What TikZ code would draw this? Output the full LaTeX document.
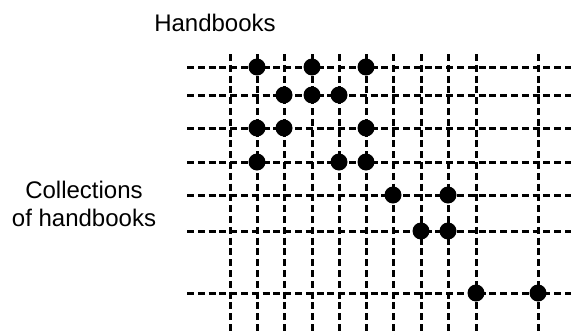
\documentclass[tikz,border=0pt]{standalone}
\usepackage{fontspec}
\setmainfont{Liberation Sans}
\begin{document}
\begin{tikzpicture}[x=1pt,y=-1pt,
  gridline/.style={line width=3pt,dash pattern=on 7pt off 3.8pt},
  hit/.style={circle,fill=black,inner sep=0pt,minimum size=17pt},
  label/.style={font=\fontsize{24}{27.5}\selectfont,align=center,inner sep=0pt}]
\useasboundingbox (0,0) rectangle (571,335);
% columns (handbooks) and rows (collections)
\foreach \x in {230,257,284,312,339,366,393,421,448,476,538}
  \draw[gridline] (\x,54) -- (\x,335);
\foreach \y in {67,95,128,162,195,231,293}
  \draw[gridline] (187,\y) -- (571,\y);
% membership marks
\foreach \x/\y [count=\i] in {257/67,312/67,366/67,
                              284/95,312/95,339/95,
                              257/128,284/128,366/128,
                              257/162,339/162,366/162,
                              393/195,448/195,
                              421/231,448/231,
                              476/293,538/293}
  \node[hit] (m\i) at (\x,\y) {};
% axis captions
\node[label] (hb) at (215,23) {Handbooks};
\node[label] (coll) at (84,204) {Collections\\of handbooks};
\end{tikzpicture}
\end{document}
